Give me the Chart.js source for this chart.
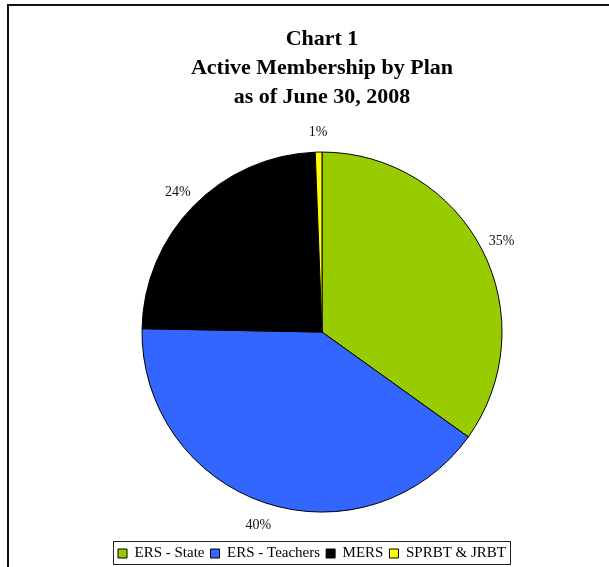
<!DOCTYPE html>
<html>
<head>
<meta charset="utf-8">
<script src="https://cdn.jsdelivr.net/npm/chart.js@4.4.0/dist/chart.umd.min.js"></script>
<style>
html,body{margin:0;padding:0;background:#fff;}
#wrap{position:relative;width:609px;height:567px;}
</style>
</head>
<body>
<div id="wrap"><canvas id="c" width="609" height="567"></canvas></div>
<script>
const titleLines = ["Chart 1", "Active Membership by Plan", "as of June 30, 2008"];
const categories = ["ERS - State", "ERS - Teachers", "MERS", "SPRBT & JRBT"];
const shares = [34.9, 40.4, 24.1, 0.6];
const colors = ["#99CC00", "#3366FF", "#000000", "#FFFF00"];

const LEG_DX = -10, LEG_DY = 8;

const frame = {
  id: 'frame',
  beforeDraw(chart) {
    const ctx = chart.ctx;
    ctx.save();
    ctx.fillStyle = '#fff';
    ctx.fillRect(0, 0, chart.width, chart.height);
    ctx.strokeStyle = '#111';
    ctx.lineWidth = 2;
    ctx.strokeRect(8, 5, 800, 800);
    ctx.restore();
  }
};

const pctLabels = {
  id: 'pctLabels',
  afterDatasetsDraw(chart) {
    const ctx = chart.ctx;
    const meta = chart.getDatasetMeta(0);
    const data = chart.data.datasets[0].data;
    const total = data.reduce((a, b) => a + b, 0);
    ctx.save();
    ctx.font = '14px "Liberation Serif", "Times New Roman", serif';
    ctx.fillStyle = '#111';
    ctx.textAlign = 'center';
    ctx.textBaseline = 'middle';
    meta.data.forEach((arc, i) => {
      const p = arc.getProps(['x', 'y', 'startAngle', 'endAngle', 'outerRadius'], true);
      const mid = (p.startAngle + p.endAngle) / 2;
      const r = p.outerRadius + 22;
      const x = p.x + Math.cos(mid) * r;
      const y = p.y + Math.sin(mid) * r + 2;
      ctx.fillText(Math.round(data[i] / total * 100) + '%', x, y);
    });
    ctx.restore();
  }
};

const legendShift = {
  id: 'legendShift',
  afterLayout(chart) {
    const lg = chart.legend;
    if (lg && !lg._shifted) {
      const orig = lg.draw.bind(lg);
      lg.draw = function (area) {
        const ctx = this.ctx;
        ctx.save();
        ctx.translate(LEG_DX, LEG_DY);
        orig(area);
        ctx.restore();
      };
      lg._shifted = true;
    }
  }
};

const legendBox = {
  id: 'legendBox',
  afterDraw(chart) {
    const lg = chart.legend;
    if (!lg || !lg.legendHitBoxes || !lg.legendHitBoxes.length) return;
    const hb = lg.legendHitBoxes;
    const left = hb[0].left - 5 + LEG_DX;
    const right = hb[hb.length - 1].left + hb[hb.length - 1].width + 4 + LEG_DX;
    const top = hb[0].top - 5 + LEG_DY;
    const bottom = hb[0].top + hb[0].height + 3 + LEG_DY;
    const ctx = chart.ctx;
    ctx.save();
    ctx.strokeStyle = '#222';
    ctx.lineWidth = 1;
    ctx.strokeRect(Math.round(left) + 0.5, Math.round(top) + 0.5, Math.round(right - left), Math.round(bottom - top));
    ctx.restore();
  }
};

new Chart(document.getElementById('c'), {
  type: 'pie',
  data: {
    labels: categories,
    datasets: [{
      data: shares,
      backgroundColor: colors,
      borderColor: '#000',
      borderWidth: 1,
      radius: 180
    }]
  },
  options: {
    responsive: false,
    animation: false,
    layout: { padding: { top: 25, left: 35, right: 0, bottom: 4 } },
    plugins: {
      tooltip: { enabled: false },
      title: {
        display: true,
        text: titleLines,
        color: '#000',
        font: { family: '"Liberation Serif", "Times New Roman", serif', size: 22, weight: 'bold', lineHeight: 1.32 },
        padding: { top: 0, bottom: 20 }
      },
      legend: {
        display: true,
        position: 'bottom',
        labels: {
          color: '#000',
          boxWidth: 9,
          boxHeight: 9,
          padding: 6,
          font: { family: '"Liberation Serif", "Times New Roman", serif', size: 15 }
        }
      }
    }
  },
  plugins: [frame, pctLabels, legendShift, legendBox]
});
</script>
</body>
</html>
